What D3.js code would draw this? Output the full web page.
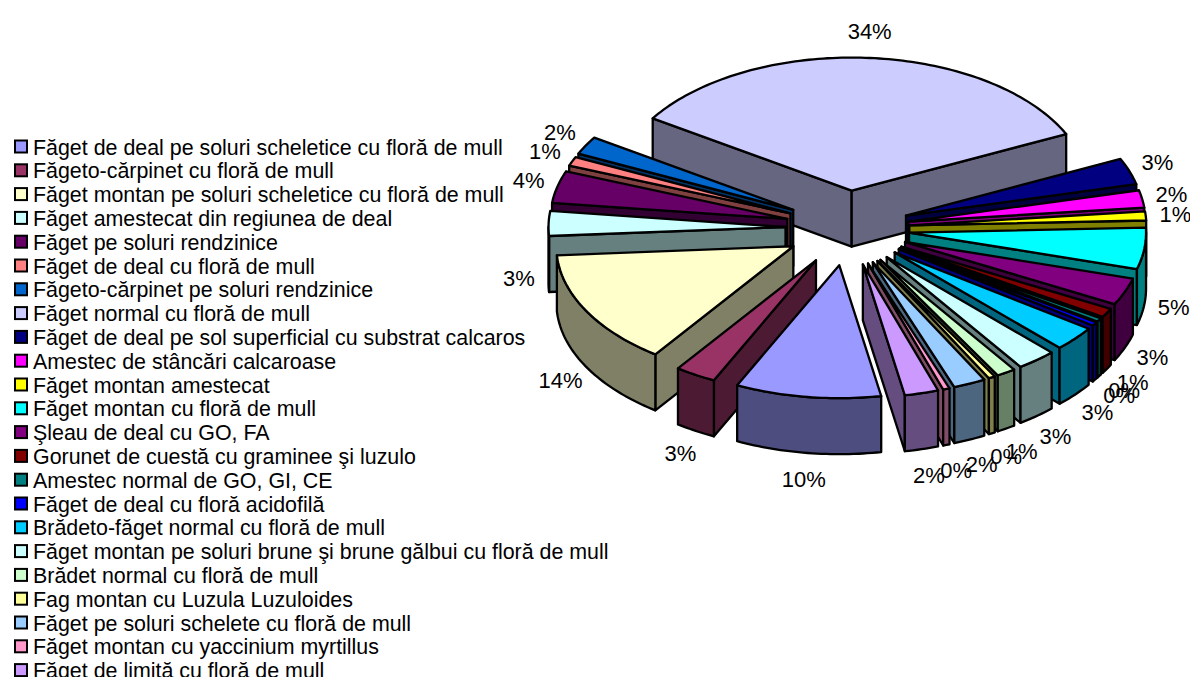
<!DOCTYPE html>
<html>
<head>
<meta charset="utf-8">
<script src="https://cdn.jsdelivr.net/npm/d3@7"></script>
<style>
html, body { margin: 0; padding: 0; background: #fff; overflow: hidden; }
text { font-family: "Liberation Sans", Arial, sans-serif; fill: #000; }
</style>
</head>
<body>
<script>
const categories = [
    "Făget de deal pe soluri scheletice cu floră de mull",
    "Făgeto-cărpinet cu floră de mull",
    "Făget montan pe soluri scheletice cu floră de mull",
    "Făget amestecat din regiunea de deal",
    "Făget pe soluri rendzinice",
    "Făget de deal cu floră de mull",
    "Făgeto-cărpinet pe soluri rendzinice",
    "Făget normal cu floră de mull",
    "Făget de deal pe sol superficial cu substrat calcaros",
    "Amestec de stâncări calcaroase",
    "Făget montan amestecat",
    "Făget montan cu floră de mull",
    "Şleau de deal cu GO, FA",
    "Gorunet de cuestă cu graminee şi luzulo",
    "Amestec normal de GO, GI, CE",
    "Făget de deal cu floră acidofilă",
    "Brădeto-făget normal cu floră de mull",
    "Făget montan pe soluri brune şi brune gălbui cu floră de mull",
    "Brădet normal cu floră de mull",
    "Fag montan cu Luzula Luzuloides",
    "Făget pe soluri schelete cu floră de mull",
    "Făget montan cu yaccinium myrtillus",
    "Făget de limită cu floră de mull"
];
const values = [9.9, 2.8, 14, 3, 3.9, 1.1, 2.2, 33.8, 3.2, 2.1, 1.1, 5, 3.3, 1.1, 0.45, 0.45, 3, 2.7, 1.3, 0.45, 2.2, 0.45, 2.3];
const colors = ["#9999FF", "#993366", "#FFFFCC", "#CCFFFF", "#660066", "#FF8080", "#0066CC", "#CCCCFF", "#000080", "#FF00FF", "#FFFF00", "#00FFFF", "#800080", "#800000", "#008080", "#0000FF", "#00CCFF", "#CCFFFF", "#CCFFCC", "#FFFF99", "#99CCFF", "#FF99CC", "#CC99FF"];

const width = 1190;
const height = 677;

// pie seen from above: ellipse on screen
const centerX = 847.5;
const centerY = 228;
const radiusX = 237;
const radiusY = 133;
const depth = 56;
const explodeX = 62 / 237; // in pie radii
const explodeY = 37.5 / 133;
const firstAngle = 169.8 * Math.PI / 180;

const x = d3.scaleLinear().domain([-1, 1]).range([centerX - radiusX, centerX + radiusX]);
const y = d3.scaleLinear().domain([-1, 1]).range([centerY - radiusY, centerY + radiusY]);

let svg = d3.select("body")
    .append("svg")
    .attr("width", width)
    .attr("height", height)
    .style("display", "block");

let slices = d3.pie().sort(null)
    .startAngle(firstAngle)
    .endAngle(firstAngle + 2 * Math.PI)(values)
    .map((d, i) => {
        let mid = (d.startAngle + d.endAngle) / 2;
        return {
            i: i,
            value: d.value,
            a0: d.startAngle,
            a1: d.endAngle,
            mid: mid,
            dx: explodeX * Math.sin(mid),
            dy: -explodeY * Math.cos(mid)
        };
    });

// angle + radius on the slice -> screen point
let project = (s, angle, r, drop) => [
    x(s.dx + r * Math.sin(angle)),
    y(s.dy - r * Math.cos(angle)) + drop
];

let poly = d3.line().curve(d3.curveLinearClosed);

let arcAngles = (from, to) => {
    let n = Math.max(2, Math.ceil((to - from) / 0.02));
    return d3.range(n + 1).map(k => from + (to - from) * k / n);
};

let topPath = s => poly(
    [project(s, 0, 0, 0)].concat(arcAngles(s.a0, s.a1).map(a => project(s, a, 1, 0)))
);

let radialWall = (s, angle) => poly([
    project(s, 0, 0, 0),
    project(s, angle, 1, 0),
    project(s, angle, 1, depth),
    project(s, 0, 0, depth)
]);

// part of the rim that looks to the viewer (bottom half of the ellipse)
let outerWall = s => {
    let segs = [];
    [[Math.PI / 2, 3 * Math.PI / 2], [5 * Math.PI / 2, 7 * Math.PI / 2]].forEach(w => {
        let from = Math.max(s.a0, w[0]);
        let to = Math.min(s.a1, w[1]);
        if (to > from) {
            let angles = arcAngles(from, to);
            segs.push(poly(
                angles.map(a => project(s, a, 1, 0))
                    .concat(angles.slice().reverse().map(a => project(s, a, 1, depth)))
            ));
        }
    });
    return segs.join("");
};

let dark = c => {
    let col = d3.rgb(c);
    return d3.rgb(col.r / 2, col.g / 2, col.b / 2).formatHex();
};

// back slices first
let order = slices.slice().sort((a, b) => Math.cos(b.mid) - Math.cos(a.mid));

let pie = svg.append("g")
    .attr("stroke", "#000")
    .attr("stroke-width", 2.3)
    .attr("stroke-linejoin", "round");

let sliceG = pie.selectAll("g.slice")
    .data(order)
    .enter()
    .append("g")
    .attr("class", "slice");

sliceG.filter(s => Math.sin(s.a0) < 0)
    .append("path")
    .attr("d", s => radialWall(s, s.a0))
    .attr("fill", s => dark(colors[s.i]));

sliceG.filter(s => Math.sin(s.a1) > 0)
    .append("path")
    .attr("d", s => radialWall(s, s.a1))
    .attr("fill", s => dark(colors[s.i]));

sliceG.append("path")
    .attr("d", outerWall)
    .attr("fill", s => dark(colors[s.i]));

sliceG.append("path")
    .attr("d", topPath)
    .attr("fill", s => colors[s.i]);

// percent labels
let pct = d3.format(".0%");
const labelX = 1.125;
const labelY = 1.2;

svg.append("g")
    .selectAll("text")
    .data(slices)
    .enter()
    .append("text")
    .attr("x", s => project(s, s.mid, labelX, 0)[0])
    .attr("y", s => {
        let yy = y(s.dy - labelY * Math.cos(s.mid));
        return Math.cos(s.mid) < 0.03 ? yy + depth : yy;
    })
    .attr("dy", "0.35em")
    .attr("text-anchor", "middle")
    .attr("font-size", 22)
    .text(s => pct(s.value / 100));

// legend
const legendStep = 23.8;
let legendY = d3.scaleLinear().domain([0, 1]).range([147, 147 + legendStep]);

let legend = svg.append("g")
    .selectAll("g")
    .data(categories)
    .enter()
    .append("g")
    .attr("transform", (d, i) => `translate(0,${legendY(i)})`);

legend.append("rect")
    .attr("x", 15)
    .attr("y", -6.5)
    .attr("width", 12)
    .attr("height", 12)
    .attr("fill", (d, i) => colors[i])
    .attr("stroke", "#000")
    .attr("stroke-width", 2);

legend.append("text")
    .attr("x", 33)
    .attr("y", 0)
    .attr("dy", "0.35em")
    .attr("font-size", 21.4)
    .text(d => d);
</script>
</body>
</html>
